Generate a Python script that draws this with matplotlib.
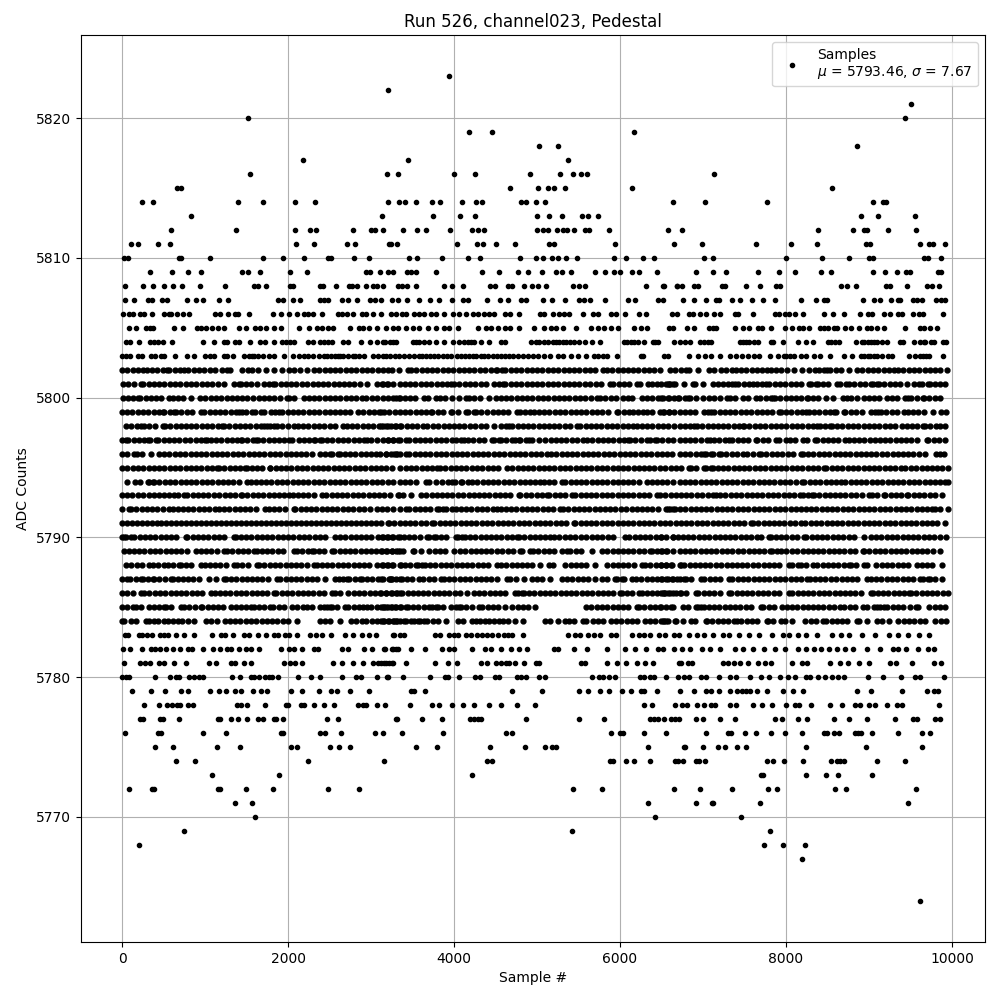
"""Pedestal samples for run 526, channel023: ADC counts vs sample number."""

import matplotlib
matplotlib.use("Agg")
import matplotlib.pyplot as plt

TITLE = "Run 526, channel023, Pedestal"
MU = 5793.46
SIGMA = 7.67

# sample numbers, one list per ADC count
s5823 = [3943]
s5822 = [3205]
s5821 = [9512]
s5820 = [1516, 9439]
s5819 = [4184, 4462, 6173]
s5818 = [5028, 5257, 8861]
s5817 = [2176, 3450, 5378]
s5816 = [1540, 3196, 3330, 4004, 4257, 4920, 5281, 5438, 5534, 5606, 7138]
s5815 = [664, 712, 4678, 5016, 5136, 5208, 5341, 6149, 8560]
s5814 = [244, 376, 1396, 1696, 2080, 2320, 3208, 3341, 3413, 3546, 3738, 3835, 4100, 4269, 4341, 4811, 4871, 4992,
         5100, 6644, 7029, 7776, 9054, 9174, 9206]
s5813 = [832, 3136, 3750, 4076, 4257, 5004, 5148, 5305, 5546, 5618, 5739, 8909, 9114, 9560]
s5812 = [592, 1372, 2080, 2260, 2332, 2788, 3004, 3052, 3148, 3389, 3558, 3666, 3956, 4220, 4293, 4365, 5004, 5076,
         5136, 5245, 5317, 5365, 5450, 5582, 5630, 5872, 6583, 6752, 8391, 8813, 8945, 8981, 9235, 9572]
s5811 = [112, 196, 436, 580, 2092, 2308, 2716, 2812, 3220, 3245, 3317, 4040, 4281, 4353, 4510, 4739, 5148, 5208, 5944,
         6656, 6993, 7644, 8066, 8379, 8970, 9018, 9620, 9729, 9777, 9922]
s5810 = [28, 76, 688, 712, 1060, 1696, 1936, 2188, 2476, 2512, 2800, 2980, 3461, 3558, 3859, 4172, 4317, 4799, 4992,
         5076, 5185, 5257, 5353, 5486, 5932, 6077, 6281, 6414, 7017, 7126, 8005, 8439, 8765, 9006, 9054, 9668, 9717,
         9873]
s5809 = [340, 604, 796, 952, 1444, 1516, 1660, 2020, 2224, 2944, 2992, 3112, 3208, 3269, 3437, 3486, 3546, 3787, 4341,
         4546, 4775, 4896, 5064, 5233, 5305, 5414, 5703, 5823, 5932, 6004, 6149, 6233, 6450, 6921, 7126, 7282, 7668,
         7921, 8114, 8427, 8548, 9054, 9198, 9343, 9452, 9500, 9837, 9873]
s5808 = [40, 256, 376, 508, 616, 724, 940, 1240, 1588, 1636, 1732, 2020, 2056, 2380, 2416, 2572, 2740, 2776, 2836,
         2944, 3028, 3076, 3148, 3330, 3377, 3437, 3546, 3883, 3980, 4112, 4438, 4498, 4654, 4703, 4847, 4944, 5016,
         5112, 5438, 5510, 5582, 6317, 6522, 6691, 6535, 6692, 6752, 6897, 6945, 7234, 7270, 7523, 7692, 7885, 7933,
         8668, 8740, 8849, 9210, 9259, 9464, 9705, 9765, 9849]
s5807 = [40, 148, 316, 364, 484, 544, 784, 892, 976, 1168, 1276, 1876, 1936, 2056, 2140, 2380, 2428, 2476, 2656, 2728,
         2836, 2992, 3052, 3120, 3257, 3329, 3437, 3582, 3715, 3823, 3980, 4112, 4172, 4401, 4558, 4654, 4811, 4871,
         5076, 5185, 5341, 5510, 5570, 5643, 5823, 6101, 6185, 6462, 6523, 6764, 6897, 7041, 7162, 7198, 7355, 7451,
         7596, 7728, 7873, 8186, 8367, 8463, 8499, 8933, 9066, 9138, 9271, 9355, 9379, 9536, 9584, 9644, 9813, 9873,
         9922]
s5806 = [16, 88, 136, 220, 268, 364, 508, 568, 592, 664, 736, 808, 1120, 1180, 1276, 1360, 1396, 1528, 1816, 1912,
         2008, 2104, 2188, 2236, 2296, 2404, 2596, 2656, 2716, 2788, 2896, 2944, 3028, 3124, 3240, 3301, 3369, 3421,
         3522, 3582, 3642, 3723, 3783, 3875, 3984, 4064, 4144, 4225, 4285, 4365, 4426, 4478, 4614, 4679, 4787, 5040,
         5088, 5189, 5269, 5329, 5390, 5550, 5671, 5731, 5892, 5952, 6060, 6233, 6314, 6623, 6692, 6836, 6885, 6969,
         7041, 7138, 7210, 7391, 7427, 7608, 7873, 7921, 7993, 8042, 8114, 8210, 8463, 8572, 8704, 8897, 8994, 9042,
         9186, 9259, 9355, 9403, 9536, 9608, 9656, 9897]
s5805 = [88, 172, 292, 340, 376, 628, 736, 904, 952, 1012, 1084, 1156, 1228, 1408, 1492, 1600, 1660, 1732, 1828, 1912,
         2128, 2248, 2344, 2404, 2476, 2536, 2752, 2860, 2908, 2980, 3076, 3184, 3261, 3321, 3421, 3502, 3582, 3682,
         3783, 3883, 3943, 4052, 4285, 4385, 4446, 4534, 4614, 4679, 4787, 4960, 5080, 5169, 5229, 5309, 5470, 5651,
         5731, 5803, 5892, 5972, 6173, 6253, 6326, 6595, 6644, 6812, 6897, 7077, 7126, 7162, 7391, 7487, 7559, 7668,
         7716, 7825, 7993, 8078, 8162, 8210, 8283, 8415, 8463, 8511, 8584, 8620, 8716, 8789, 8885, 8981, 9030, 9102,
         9186, 9439, 9620, 9668, 9741, 9825]
s5804 = [52, 100, 208, 340, 388, 436, 496, 604, 976, 1108, 1228, 1264, 1360, 1408, 1540, 1660, 1720, 1828, 1924, 1972,
         2020, 2068, 2236, 2296, 2380, 2428, 2476, 2524, 2668, 2728, 2884, 2992, 3076, 3148, 3232, 3301, 3502, 3582,
         3642, 3703, 3783, 3883, 3984, 4064, 4164, 4245, 4325, 4426, 4566, 4614, 4928, 5028, 5189, 5269, 5349, 5450,
         5582, 5659, 5763, 6052, 6133, 6213, 6293, 6394, 6454, 6656, 6728, 6788, 6848, 6969, 7017, 7102, 7451, 7487,
         7559, 7668, 7825, 7849, 7969, 8150, 8246, 8331, 8503, 8548, 8849, 8945, 9030, 9102, 9162, 9222, 9379, 9415,
         9548, 9620, 9681, 9789, 9897, 9934,
         3170, 3260, 3540, 4120, 4205, 4985, 5085, 5130, 5230, 5310, 5395, 5510, 6090, 6170, 6420, 7060, 7520, 7620,
         8590, 8640, 8910, 8990, 9060, 9660, 9750]
s5803 = [4, 52, 100, 196, 244, 352, 400, 472, 508, 640, 784, 868, 1000, 1060, 1108, 1228, 1264, 1336, 1468, 1528,
         1588, 1696, 1768, 1828, 1948, 2056, 2128, 2296, 2368, 2428, 2512, 2596, 2668, 2728, 2812, 2920, 3028, 3088,
         3148, 3228, 3288, 3341, 3461, 3582, 3662, 3763, 3863, 3963, 4084, 4185, 4265, 4365, 4466, 4566, 4667, 4767,
         4888, 5008, 5088, 5161, 5249, 5309, 5410, 5490, 5590, 5691, 5791, 5964, 6253, 6273, 6535, 6575, 6836, 6945,
         7029, 7102, 7210, 7331, 7403, 7475, 7547, 7620, 7680, 7813, 7909, 7981, 8102, 8186, 8246, 8343, 8415, 8536,
         8704, 8801, 8945, 9018, 9102, 9162, 9234, 9488, 9560, 9656, 9729, 9897,
         1560, 1640, 2190, 2240, 2470, 2560, 2630, 2780, 2860, 3180, 3400, 3520, 3615, 3710, 3810, 3915, 4030, 4135,
         4225, 4320, 4415, 4515, 4615, 4715, 4830, 4950, 5730, 5840, 8000, 8050, 8900, 8990, 9060, 9280, 9610, 9690]
s5802 = [0, 64, 128, 190, 256, 300, 360, 425, 490, 540, 570, 635, 700, 750, 800, 865, 930, 990, 1055, 1120, 1200,
         1260, 1300, 1450, 1520, 1570, 1635, 1730, 1830, 1930, 2010, 2075, 2140, 2230, 2310, 2375, 2440, 2500, 2565,
         2630, 2695, 2760, 2820, 2885, 2950, 3015, 3080, 3140, 3205, 3250, 3340, 3440, 3480, 3545, 3610, 3670, 3735,
         3800, 3865, 3930, 3990, 4055, 4120, 4180, 4245, 4310, 4375, 4440, 4500, 4520, 4580, 4620, 4685, 4750, 4810,
         4875, 4940, 5000, 5065, 5130, 5190, 5255, 5320, 5385, 5450, 5510, 5575, 5640, 5700, 5800, 5840, 5905, 5970,
         6030, 6095, 6160, 6220, 6285, 6350, 6415, 6480, 6600, 6665, 6730, 6790, 6835, 6935, 7075, 7135, 7215, 7280,
         7345, 7395, 7455, 7520, 7585, 7650, 7710, 7775, 7815, 7880, 7945, 8010, 8095, 8195, 8275, 8355, 8395, 8455,
         8495, 8535, 8600, 8665, 8755, 8855, 8920, 8985, 9045, 9110, 9175, 9240, 9300, 9355, 9415, 9480, 9545, 9605,
         9670, 9735, 9800, 9860, 9935]
s5801 = [8, 68, 148, 228, 256, 320, 385, 450, 510, 575, 640, 700, 765, 830, 895, 960, 1020, 1085, 1150, 1228, 1348,
         1408, 1428, 1490, 1555, 1620, 1708, 1768, 1820, 1848, 1910, 1975, 2040, 2100, 2165, 2230, 2295, 2360, 2420,
         2485, 2550, 2610, 2675, 2740, 2800, 2865, 2948, 3068, 3130, 3195, 3260, 3350, 3140, 3205, 3405, 3470, 3535,
         3600, 3660, 3725, 3790, 3850, 3915, 3960, 4000, 4065, 4130, 4195, 4255, 4320, 4385, 4480, 4540, 4592, 4620,
         4685, 4750, 4810, 4875, 4940, 5000, 5065, 5130, 5195, 5255, 5320, 5385, 5450, 5510, 5575, 5640, 5705, 5765,
         5880, 5920, 5985, 6050, 6110, 6200, 6240, 6340, 6380, 6445, 6560, 6590, 6640, 6495, 6575, 6607, 6663, 6776,
         6877, 6909, 6997, 7118, 7180, 7240, 7298, 7346, 7386, 7426, 7490, 7550, 7599, 7651, 7715, 7764, 7800, 7865,
         7930, 7990, 8055, 8120, 8185, 8280, 8300, 8360, 8380, 8445, 8510, 8620, 8650, 8720, 8760, 8825, 8890, 8955,
         9020, 9050, 9100, 9120, 9185, 9250, 9315, 9375, 9460, 9540, 9600, 9640, 9710, 9730, 9795, 9860, 9910]
s5800 = [8, 68, 128, 188, 220, 285, 350, 410, 475, 568, 608, 670, 735, 828, 940, 1005, 1070, 1130, 1195, 1260, 1320,
         1385, 1450, 1510, 1575, 1648, 1708, 1770, 1835, 1900, 1988, 2008, 2075, 2188, 2248, 2310, 2375, 2440, 2500,
         2565, 2630, 2695, 2755, 2820, 2885, 2945, 3010, 3075, 3140, 3200, 3265, 3350, 3300, 3340, 3405, 3470, 3530,
         3640, 3690, 3780, 3830, 3895, 3980, 4060, 4140, 4180, 4245, 4310, 4420, 4500, 4565, 4630, 4690, 4755, 4820,
         4880, 4945, 5010, 5075, 5135, 5200, 5265, 5325, 5390, 5455, 5520, 5580, 5645, 5720, 5760, 5825, 5890, 5950,
         6040, 6100, 6140, 6260, 6325, 6390, 6460, 6520, 6580, 6495, 6595, 6647, 6695, 6715, 6780, 6815, 6845, 6910,
         7000, 7070, 7135, 7200, 7290, 7320, 7380, 7480, 7545, 7640, 7690, 7755, 7820, 7840, 7870, 7930, 7995, 8060,
         8120, 8185, 8250, 8260, 8325, 8390, 8480, 8570, 8690, 8740, 8780, 8850, 8940, 9000, 9060, 9125, 9220, 9280,
         9340, 9440, 9470, 9510, 9575, 9650, 9660, 9725, 9790, 9850]
s5799 = [0, 65, 125, 190, 250, 315, 380, 440, 490, 510, 575, 630, 650, 715, 780, 840, 950, 990, 1055, 1120, 1180, 1245,
         1310, 1370, 1410, 1450, 1490, 1570, 1600, 1670, 1710, 1800, 1840, 1890, 1930, 1995, 2060, 2120, 2185, 2250,
         2310, 2375, 2440, 2500, 2565, 2630, 2690, 2750, 2840, 2905, 2970, 3030, 3095, 3160, 3220, 3285, 3350, 3120,
         3410, 3475, 3540, 3600, 3665, 3720, 3740, 3805, 3870, 3960, 3980, 4045, 4140, 4170, 4240, 4260, 4320, 4400,
         4465, 4530, 4590, 4655, 4760, 4790, 4855, 4920, 4960, 5025, 5090, 5150, 5215, 5280, 5340, 5405, 5470, 5530,
         5595, 5660, 5725, 5785, 5850, 5960, 5980, 6045, 6110, 6160, 6220, 6280, 6320, 6385, 6480, 6520, 6585, 6650,
         6720, 6527, 6590, 6780, 6845, 6905, 7017, 7057, 7097, 7137, 7200, 7265, 7330, 7390, 7455, 7520, 7580, 7645,
         7710, 7770, 7835, 7917, 7937, 8000, 8065, 8130, 8190, 8237, 8275, 8337, 8400, 8465, 8530, 8577, 8597, 8697,
         8717, 8780, 8845, 8910, 9027, 9067, 9107, 9147, 9210, 9275, 9340, 9427, 9467, 9530, 9595, 9660, 9767, 9867,
         9927]
s5798 = [48, 110, 175, 228, 268, 330, 395, 488, 516, 580, 645, 705, 770, 835, 895, 960, 1025, 1085, 1150, 1208, 1228,
         1290, 1355, 1420, 1480, 1545, 1610, 1668, 1708, 1748, 1788, 1836, 1868, 1930, 1995, 2068, 2116, 2180, 2245,
         2310, 2370, 2435, 2500, 2560, 2668, 2708, 2770, 2835, 2900, 2960, 3025, 3090, 3150, 3208, 3288, 3350, 3120,
         3180, 3240, 3300, 3365, 3430, 3490, 3555, 3620, 3680, 3745, 3810, 3875, 3935, 4000, 4065, 4125, 4190, 4255,
         4320, 4380, 4480, 4560, 4625, 4660, 4700, 4765, 4830, 4890, 4955, 5020, 5080, 5145, 5210, 5270, 5335, 5400,
         5480, 5520, 5585, 5650, 5710, 5775, 5840, 5900, 5965, 6030, 6095, 6160, 6200, 6265, 6325, 6390, 6455, 6520,
         6580, 6645, 6720, 6780, 6845, 6895, 6927, 6990, 7055, 7120, 7180, 7235, 7307, 7370, 7435, 7479, 7499, 7560,
         7625, 7690, 7750, 7815, 7880, 7945, 8005, 8070, 8135, 8195, 8260, 8325, 8375, 8415, 8475, 8535, 8555, 8620,
         8680, 8745, 8810, 8870, 8935, 9000, 9065, 9125, 9190, 9255, 9315, 9395, 9455, 9520, 9580, 9655, 9675, 9740,
         9805, 9860, 9915]
s5797 = [0, 48, 76, 140, 205, 265, 308, 340, 408, 436, 500, 565, 630, 690, 755, 820, 885, 948, 996, 1028, 1068, 1130,
         1195, 1260, 1320, 1385, 1428, 1448, 1510, 1575, 1608, 1636, 1700, 1765, 1825, 1890, 1955, 2008, 2048, 2128,
         2188, 2250, 2308, 2328, 2388, 2408, 2470, 2535, 2600, 2660, 2725, 2790, 2850, 2915, 2948, 2996, 3068, 3140,
         3205, 3270, 3350, 3200, 3260, 3325, 3420, 3460, 3525, 3590, 3650, 3715, 3780, 3845, 3905, 3980, 4020, 4085,
         4120, 4168, 4230, 4295, 4360, 4460, 4480, 4540, 4568, 4630, 4700, 4740, 4780, 4800, 4865, 4900, 4940, 5020,
         5100, 5165, 5230, 5290, 5355, 5420, 5480, 5560, 5600, 5665, 5730, 5790, 5855, 5920, 5985, 6045, 6100, 6120,
         6185, 6250, 6320, 6360, 6420, 6448, 6510, 6575, 6640, 6720, 6780, 6845, 6905, 6970, 7047, 7087, 7135, 7195,
         7260, 7315, 7355, 7420, 7485, 7545, 7635, 7655, 7720, 7785, 7875, 7915, 7995, 8047, 8110, 8207, 8255, 8355,
         8375, 8440, 8505, 8565, 8630, 8715, 8755, 8820, 8880, 8945, 9010, 9075, 9135, 9195, 9255, 9320, 9385, 9445,
         9510, 9575, 9695, 9715, 9780, 9845, 9915]
s5796 = [0, 60, 148, 180, 245, 348, 448, 510, 568, 636, 700, 760, 825, 890, 950, 1015, 1080, 1145, 1205, 1270, 1335,
         1395, 1460, 1525, 1585, 1650, 1715, 1780, 1840, 1905, 1970, 2030, 2095, 2160, 2220, 2285, 2388, 2448, 2508,
         2528, 2596, 2620, 2685, 2750, 2810, 2875, 2940, 3000, 3065, 3108, 3180, 3245, 3310, 3350, 3180, 3280, 3300,
         3420, 3460, 3525, 3590, 3655, 3715, 3780, 3845, 3905, 3970, 4035, 4095, 4160, 4225, 4290, 4350, 4415, 4480,
         4540, 4605, 4670, 4730, 4795, 4860, 4925, 4985, 5050, 5115, 5170, 5230, 5295, 5360, 5420, 5485, 5550, 5610,
         5675, 5740, 5805, 5865, 5930, 5995, 6055, 6120, 6185, 6250, 6310, 6375, 6440, 6500, 6565, 6630, 6720, 6780,
         6845, 6910, 6970, 7015, 7035, 7095, 7115, 7195, 7215, 7280, 7345, 7405, 7487, 7535, 7600, 7675, 7703, 7765,
         7830, 7895, 7955, 8020, 8085, 8175, 8203, 8265, 8330, 8395, 8455, 8520, 8585, 8645, 8710, 8775, 8840, 8900,
         8965, 9030, 9090, 9155, 9220, 9285, 9345, 9410, 9475, 9535, 9600, 9675, 9807, 9850, 9903]
s5795 = [0, 65, 130, 190, 255, 320, 380, 445, 510, 575, 635, 700, 765, 825, 890, 955, 1020, 1080, 1148, 1168, 1230,
         1295, 1360, 1420, 1476, 1500, 1565, 1630, 1690, 1780, 1788, 1850, 1915, 1980, 2040, 2105, 2170, 2230, 2295,
         2360, 2425, 2485, 2550, 2615, 2675, 2740, 2805, 2870, 2930, 2995, 3060, 3120, 3185, 3250, 3350, 3420, 3480,
         3545, 3610, 3670, 3735, 3800, 3832, 3895, 3960, 4020, 4085, 4150, 4215, 4275, 4340, 4405, 4465, 4530, 4640,
         4700, 4765, 4830, 4890, 4955, 5020, 5080, 5145, 5210, 5275, 5335, 5400, 5465, 5525, 5590, 5655, 5720, 5780,
         5845, 5910, 5970, 6035, 6100, 6165, 6225, 6290, 6355, 6415, 6480, 6545, 6610, 6670, 6735, 6835, 6855, 6920,
         7015, 7035, 7095, 7115, 7180, 7240, 7305, 7370, 7435, 7495, 7560, 7625, 7685, 7750, 7815, 7880, 7940, 8005,
         8070, 8130, 8195, 8260, 8325, 8385, 8455, 8487, 8550, 8615, 8680, 8745, 8805, 8870, 8935, 8995, 9060, 9125,
         9190, 9250, 9315, 9380, 9440, 9505, 9570, 9635, 9695, 9760, 9825, 9885, 9950]
s5794 = [60, 156, 220, 308, 328, 368, 388, 450, 515, 580, 640, 705, 770, 830, 895, 960, 1025, 1085, 1150, 1215, 1275,
         1340, 1405, 1508, 1548, 1610, 1675, 1740, 1800, 1865, 1930, 1990, 2055, 2120, 2185, 2245, 2310, 2375, 2435,
         2500, 2565, 2630, 2690, 2755, 2820, 2880, 2945, 3010, 3075, 3135, 3200, 3265, 3350, 3410, 3475, 3540, 3660,
         3700, 3780, 3860, 3925, 3980, 4008, 4080, 4100, 4165, 4220, 4280, 4345, 4410, 4470, 4535, 4600, 4660, 4725,
         4790, 4855, 4915, 4980, 5040, 5080, 5145, 5210, 5300, 5340, 5405, 5470, 5530, 5595, 5660, 5720, 5780, 5845,
         5910, 5970, 6035, 6100, 6160, 6225, 6320, 6380, 6445, 6510, 6570, 6635, 6720, 6780, 6845, 6905, 6970, 7035,
         7100, 7160, 7225, 7290, 7350, 7415, 7480, 7545, 7605, 7670, 7735, 7795, 7860, 7925, 7990, 8050, 8115, 8195,
         8223, 8285, 8350, 8415, 8480, 8540, 8605, 8663, 8715, 8780, 8840, 8905, 8970, 9035, 9095, 9160, 9225, 9285,
         9350, 9415, 9480, 9540, 9605, 9670, 9730, 9795, 9860, 9920, 9950]
s5793 = [0, 65, 125, 190, 255, 320, 380, 445, 510, 570, 620, 668, 748, 788, 850, 915, 980, 1040, 1105, 1170, 1235,
         1295, 1360, 1428, 1448, 1510, 1575, 1635, 1700, 1765, 1830, 1890, 1955, 2008, 2056, 2120, 2180, 2245, 2310,
         2408, 2460, 2525, 2590, 2650, 2715, 2780, 2840, 2905, 2970, 3035, 3095, 3160, 3225, 3328, 3340, 3380, 3480,
         3600, 3665, 3730, 3790, 3855, 3920, 3980, 4045, 4110, 4175, 4235, 4300, 4365, 4425, 4490, 4555, 4620, 4680,
         4780, 4800, 4865, 4930, 5000, 5060, 5120, 5150, 5215, 5280, 5340, 5420, 5460, 5525, 5585, 5650, 5715, 5780,
         5840, 5905, 5970, 6030, 6095, 6160, 6225, 6285, 6350, 6440, 6480, 6545, 6610, 6670, 6735, 6800, 6860, 6925,
         6990, 7055, 7115, 7155, 7207, 7270, 7335, 7395, 7460, 7525, 7590, 7650, 7715, 7780, 7840, 7905, 7970, 8035,
         8095, 8167, 8207, 8270, 8315, 8335, 8400, 8465, 8525, 8590, 8655, 8715, 8780, 8845, 8910, 9005, 9033, 9095,
         9175, 9195, 9260, 9325, 9385, 9455, 9475, 9540, 9600, 9665, 9730, 9790, 9875]
s5792 = [0, 88, 108, 170, 235, 300, 360, 425, 490, 568, 608, 670, 735, 800, 860, 925, 990, 1050, 1115, 1168, 1228,
         1290, 1355, 1420, 1480, 1545, 1610, 1728, 1768, 1830, 1895, 1960, 2068, 2088, 2150, 2215, 2280, 2340, 2405,
         2470, 2530, 2595, 2660, 2725, 2785, 2850, 2915, 2988, 3068, 3130, 3195, 3260, 3350, 3420, 3460, 3525, 3590,
         3650, 3715, 3800, 3820, 3870, 3900, 3980, 4020, 4085, 4145, 4210, 4275, 4335, 4400, 4465, 4520, 4560, 4625,
         4690, 4750, 4815, 4880, 4945, 5005, 5070, 5135, 5195, 5280, 5310, 5375, 5440, 5500, 5565, 5630, 5695, 5755,
         5820, 5885, 5945, 6010, 6075, 6140, 6200, 6265, 6330, 6390, 6455, 6560, 6600, 6665, 6583, 6635, 6720, 6785,
         6850, 6910, 6975, 7040, 7100, 7165, 7230, 7295, 7355, 7420, 7485, 7545, 7610, 7675, 7740, 7800, 7865, 7930,
         7990, 8055, 8115, 8175, 8240, 8305, 8365, 8430, 8495, 8555, 8620, 8685, 8750, 8810, 8875, 8940, 9000, 9065,
         9130, 9195, 9255, 9320, 9385, 9445, 9510, 9575, 9640, 9700, 9755, 9795, 9860, 9950]
s5791 = [0, 55, 115, 175, 235, 295, 355, 415, 475, 535, 595, 655, 715, 775, 835, 895, 955, 1015, 1075, 1135, 1195,
         1255, 1315, 1375, 1435, 1495, 1555, 1615, 1675, 1735, 1795, 1855, 1915, 1975, 2035, 2095, 2155, 2215, 2275,
         2335, 2395, 2455, 2515, 2575, 2635, 2695, 2755, 2815, 2875, 2935, 2995, 3055, 3120, 3200, 3220, 3280, 3345,
         3410, 3470, 3535, 3600, 3660, 3740, 3760, 3825, 3890, 3950, 4015, 4080, 4140, 4205, 4270, 4335, 4395, 4460,
         4525, 4585, 4650, 4715, 4780, 4840, 4905, 4970, 5030, 5095, 5160, 5225, 5285, 5350, 5440, 5460, 5525, 5590,
         5650, 5715, 5780, 5840, 5905, 5970, 6035, 6095, 6160, 6225, 6285, 6350, 6415, 6480, 6540, 6605, 6670, 6730,
         6795, 6860, 6925, 6985, 7050, 7115, 7175, 7240, 7305, 7370, 7430, 7495, 7580, 7600, 7665, 7730, 7790, 7855,
         7920, 7980, 8045, 8110, 8175, 8235, 8300, 8365, 8425, 8490, 8555, 8620, 8680, 8745, 8810, 8870, 8935, 9000,
         9065, 9125, 9190, 9255, 9315, 9380, 9445, 9510, 9570, 9635, 9700, 9760, 9825, 9910]
s5790 = [0, 28, 48, 108, 148, 210, 275, 340, 400, 465, 530, 590, 655, 768, 788, 850, 915, 975, 1040, 1105, 1165, 1230,
         1348, 1368, 1430, 1495, 1555, 1620, 1685, 1750, 1810, 1875, 1940, 2000, 2065, 2130, 2190, 2255, 2320, 2380,
         2445, 2568, 2628, 2690, 2755, 2815, 2880, 2945, 3005, 3088, 3128, 3190, 3255, 3350, 3140, 3205, 3270, 3330,
         3395, 3460, 3520, 3585, 3680, 3700, 3760, 3780, 3845, 3905, 4020, 4048, 4100, 4128, 4190, 4255, 4320, 4380,
         4445, 4510, 4570, 4635, 4700, 4760, 4780, 4845, 4910, 4970, 5035, 5100, 5160, 5208, 5270, 5335, 5400, 5460,
         5525, 5590, 5660, 5720, 5785, 5850, 5910, 6060, 6112, 6175, 6240, 6300, 6365, 6430, 6490, 6555, 6640, 6495,
         6635, 6695, 6760, 6820, 6885, 6950, 7010, 7075, 7140, 7200, 7265, 7330, 7390, 7455, 7520, 7580, 7655, 7695,
         7795, 7815, 7880, 7945, 8005, 8070, 8135, 8215, 8247, 8310, 8375, 8435, 8500, 8565, 8625, 8690, 8755, 8815,
         8945, 9025, 9090, 9150, 9215, 9280, 9340, 9405, 9470, 9530, 9595, 9660, 9720, 9785, 9850, 9930]
s5789 = [28, 88, 148, 208, 270, 335, 400, 460, 525, 590, 650, 715, 780, 888, 948, 1010, 1075, 1140, 1228, 1268, 1330,
         1395, 1460, 1520, 1588, 1620, 1685, 1750, 1810, 1875, 1940, 2068, 2108, 2170, 2235, 2288, 2308, 2370, 2435,
         2528, 2556, 2620, 2685, 2745, 2810, 2875, 2935, 3000, 3065, 3128, 3188, 3250, 3350, 3120, 3185, 3250, 3300,
         3320, 3385, 3500, 3520, 3600, 3700, 3765, 3830, 3890, 4000, 4072, 4135, 4200, 4260, 4325, 4390, 4450, 4515,
         4580, 4645, 4705, 4800, 4820, 4920, 4952, 5015, 5080, 5140, 5200, 5300, 5360, 5400, 5465, 5530, 5660, 5780,
         5845, 5910, 5970, 6035, 6100, 6160, 6225, 6290, 6360, 6380, 6445, 6505, 6570, 6635, 6720, 6495, 6560, 6780,
         6845, 6905, 6970, 7035, 7095, 7160, 7225, 7290, 7350, 7423, 7487, 7550, 7615, 7675, 7740, 7807, 7835, 7887,
         7943, 8005, 8070, 8135, 8200, 8260, 8325, 8390, 8450, 8515, 8580, 8640, 8705, 8770, 8835, 8927, 8943, 9005,
         9070, 9135, 9195, 9260, 9325, 9385, 9450, 9515, 9580, 9640, 9705, 9770, 9855]
s5788 = [48, 110, 175, 240, 328, 368, 430, 508, 548, 610, 688, 708, 770, 835, 948, 996, 1060, 1120, 1185, 1250, 1348,
         1388, 1450, 1515, 1628, 1652, 1715, 1780, 1840, 1905, 1970, 2030, 2095, 2160, 2225, 2308, 2348, 2410, 2475,
         2535, 2600, 2665, 2725, 2790, 2855, 2920, 2980, 3068, 3128, 3190, 3255, 3350, 3140, 3205, 3270, 3360, 3408,
         3470, 3540, 3560, 3608, 3648, 3710, 3775, 3840, 3900, 3965, 4030, 4090, 4155, 4220, 4285, 4345, 4410, 4520,
         4568, 4630, 4695, 4755, 4820, 4885, 4945, 5040, 5140, 5192, 5340, 5405, 5470, 5530, 5595, 5700, 5848, 5910,
         5975, 6040, 6100, 6165, 6260, 6300, 6365, 6430, 6490, 6555, 6620, 6720, 6495, 6560, 6625, 6735, 6775, 6840,
         6900, 6965, 7030, 7090, 7155, 7220, 7285, 7345, 7410, 7475, 7535, 7600, 7665, 7730, 7790, 7855, 7920, 8035,
         8075, 8143, 8183, 8245, 8327, 8375, 8440, 8505, 8565, 8630, 8695, 8755, 8783, 8845, 8935, 8975, 9087, 9155,
         9215, 9280, 9345, 9405, 9470, 9575, 9635, 9700, 9760, 9875]
s5787 = [0, 60, 100, 165, 228, 248, 310, 368, 388, 450, 515, 588, 608, 670, 735, 800, 860, 925, 1048, 1128, 1228, 1248,
         1310, 1375, 1440, 1500, 1565, 1630, 1690, 1755, 1868, 1908, 1970, 2035, 2100, 2160, 2225, 2290, 2350, 2448,
         2560, 2608, 2660, 2708, 2740, 2805, 2868, 2888, 2950, 3015, 3080, 3140, 3228, 3248, 3350, 3120, 3220, 3240,
         3305, 3370, 3430, 3495, 3580, 3632, 3695, 3760, 3840, 3880, 3945, 4005, 4070, 4135, 4195, 4260, 4325, 4390,
         4450, 4515, 4640, 4680, 4745, 4840, 4940, 5005, 5065, 5160, 5300, 5365, 5425, 5490, 5555, 5620, 5700, 5780,
         5845, 5940, 5968, 6020, 6048, 6140, 6192, 6255, 6320, 6380, 6445, 6510, 6575, 6635, 6720, 6495, 6560, 6625,
         6690, 6775, 6795, 6860, 6975, 7015, 7080, 7140, 7205, 7315, 7355, 7420, 7480, 7545, 7610, 7670, 7735, 7800,
         7865, 7925, 7990, 8055, 8115, 8180, 8255, 8287, 8350, 8415, 8475, 8540, 8605, 8670, 8730, 8795, 8860, 8975,
         9023, 9085, 9150, 9215, 9275, 9340, 9405, 9465, 9530, 9615, 9647, 9707, 9735, 9795, 9875]
s5786 = [0, 65, 130, 228, 268, 330, 395, 455, 520, 585, 650, 710, 775, 840, 900, 965, 1068, 1116, 1180, 1240, 1305,
         1370, 1430, 1495, 1560, 1625, 1685, 1750, 1828, 1860, 1925, 1990, 2050, 2115, 2180, 2240, 2305, 2370, 2435,
         2528, 2568, 2630, 2728, 2796, 2860, 2920, 2985, 3050, 3110, 3175, 3240, 3305, 3350, 3120, 3185, 3250, 3310,
         3375, 3440, 3500, 3565, 3630, 3690, 3755, 3820, 3885, 3945, 4010, 4075, 4160, 4240, 4305, 4365, 4430, 4495,
         4555, 4620, 4740, 4768, 4820, 4840, 4905, 4965, 5030, 5095, 5155, 5220, 5285, 5350, 5410, 5475, 5540, 5600,
         5665, 5730, 5795, 5855, 5920, 6000, 6020, 6085, 6150, 6230, 6260, 6325, 6390, 6450, 6515, 6580, 6640, 6720,
         6495, 6527, 6543, 6605, 6670, 6735, 6795, 6915, 6945, 7010, 7075, 7135, 7200, 7315, 7343, 7405, 7470, 7530,
         7595, 7660, 7725, 7785, 7850, 7915, 8035, 8075, 8140, 8200, 8265, 8330, 8395, 8455, 8520, 8585, 8645, 8710,
         8775, 8835, 8900, 9025, 9045, 9110, 9170, 9235, 9300, 9360, 9425, 9487, 9507, 9570, 9635, 9695, 9760, 9825,
         9890, 9950]
s5785 = [0, 60, 128, 168, 230, 328, 388, 450, 508, 528, 590, 708, 748, 810, 875, 948, 968, 1030, 1095, 1160, 1220, 1316,
         1368, 1430, 1495, 1548, 1588, 1650, 1715, 1788, 1820, 1885, 1948, 2048, 2110, 2180, 2228, 2288, 2380, 2428,
         2468, 2508, 2528, 2590, 2688, 2728, 2790, 2855, 2908, 2948, 2996, 3068, 3148, 3180, 3236, 3288, 3350, 3120,
         3160, 3200, 3248, 3300, 3365, 3420, 3440, 3505, 3570, 3635, 3700, 3740, 3780, 3808, 3870, 3968, 4020, 4060,
         4088, 4150, 4215, 4300, 4340, 4405, 4470, 4535, 4620, 4700, 4765, 4830, 4890, 4980, 5592, 5655, 5720, 5780,
         5845, 5910, 5970, 6035, 6100, 6200, 6232, 6295, 6360, 6420, 6485, 6550, 6620, 6495, 6635, 6755, 6820, 6915,
         6943, 6975, 7007, 7070, 7135, 7195, 7260, 7325, 7385, 7450, 7515, 7580, 7695, 7727, 7790, 7855, 7955, 8007,
         8075, 8135, 8200, 8260, 8325, 8390, 8450, 8515, 8580, 8645, 8705, 8770, 8835, 8927, 8975, 9055, 9095, 9135,
         9175, 9215, 9287, 9350, 9415, 9495, 9567, 9595, 9727, 9790, 9855, 9915]
s5784 = [0, 28, 108, 170, 288, 328, 380, 428, 508, 548, 608, 668, 728, 796, 868, 1008, 1075, 1148, 1236, 1300, 1365,
         1425, 1490, 1555, 1615, 1680, 1745, 1810, 1870, 1935, 2000, 2108, 2380, 2445, 2510, 2620, 2756, 2820, 2885,
         2945, 3010, 3075, 3148, 3208, 3260, 3300, 3350, 3120, 3160, 3220, 3272, 3312, 3392, 3420, 3480, 3512, 3560,
         3592, 3640, 3680, 3752, 3808, 3900, 4048, 4110, 4220, 4260, 4312, 4368, 4420, 4480, 4540, 4592, 4648, 4740,
         4832, 5100, 5152, 5248, 5340, 5380, 5445, 5560, 5592, 5680, 5740, 5792, 5888, 5950, 6015, 6080, 6140, 6205,
         6300, 6360, 6425, 6512, 6560, 6660, 6495, 6527, 6583, 6675, 6755, 6855, 6903, 7035, 7047, 7110, 7175, 7235,
         7300, 7375, 7407, 7463, 7527, 7590, 7655, 7767, 7783, 7845, 7943, 7983, 8075, 8235, 8300, 8365, 8447, 8487,
         8550, 8615, 8675, 8740, 8855, 8875, 8975, 9095, 9160, 9247, 9355, 9420, 9480, 9545, 9610, 9670, 9795, 9867,
         9927]
s5783 = [40, 76, 208, 244, 304, 364, 460, 508, 556, 652, 748, 868, 1084, 1192, 1240, 1336, 1468, 1528, 1636, 1732,
         1828, 1876, 1960, 2008, 2104, 2260, 2332, 2404, 2512, 2692, 2788, 2896, 2980, 3064, 3268, 3281, 3353, 3401,
         3775, 3835, 3943, 4004, 4052, 4148, 4209, 4281, 4341, 4401, 4462, 4534, 4606, 4654, 4703, 4835, 5378, 5462,
         5522, 5618, 5691, 5763, 5896, 5956, 6149, 6233, 6293, 6366, 6474, 6547, 6656, 6715, 6836, 6933, 7017, 7126,
         7246, 7319, 7439, 7559, 7680, 7837, 7969, 8042, 8150, 8246, 8379, 8560, 8668, 8765, 8921, 9078, 9247, 9355,
         9476, 9608, 9729]
s5782 = [16, 100, 244, 352, 400, 460, 532, 616, 700, 796, 844, 976, 1096, 1180, 1264, 1312, 1408, 1492, 1552, 1648,
         1912, 2008, 2068, 2164, 2308, 2356, 2656, 2728, 2920, 3016, 3160, 3256, 3328, 3172, 3269, 3305, 3486, 3654,
         3859, 3943, 4004, 4221, 4377, 4450, 4570, 4691, 4787, 4884, 5209, 5257, 5450, 5607, 5848, 6064, 6185, 6318,
         6462, 6523, 6655, 6752, 6848, 6993, 7090, 7210, 7391, 7487, 7608, 7740, 7873, 7993, 8150, 8246, 8343, 8427,
         8524, 8620, 8717, 8813, 8981, 9138, 9295, 9355, 9452, 9596, 9717, 9789]
s5781 = [28, 220, 280, 340, 448, 508, 628, 772, 1048, 1132, 1312, 1360, 1468, 1552, 1948, 2020, 2080, 2164, 2536, 2656,
         2788, 2908, 3028, 3088, 3160, 3220, 3268, 3120, 3184, 3257, 3425, 3775, 3931, 4040, 4329, 4401, 4510, 4570,
         4630, 4667, 4739, 4847, 4992, 5028, 5534, 5582, 5848, 5968, 6072, 6209, 6306, 6402, 6715, 6740, 6824, 6873,
         7246, 7306, 7379, 7451, 7547, 7668, 7752, 7825, 8078, 8198, 8258, 8536, 8656, 8752, 8885, 9006, 9259, 9331,
         9524, 9789, 9873]
s5780 = [4, 52, 88, 400, 580, 652, 688, 808, 868, 928, 976, 1324, 1420, 1552, 1588, 1648, 1720, 1768, 1804, 1876, 2116,
         2272, 2380, 2656, 2824, 2884, 3076, 3196, 3208, 3389, 3715, 3895, 3931, 4064, 4257, 4317, 4498, 4546, 4763,
         4811, 4871, 5028, 5100, 5667, 5751, 5799, 5872, 5944, 6245, 6293, 6366, 6414, 6559, 6703, 6776, 6836, 6981,
         7041, 7198, 7331, 7403, 7572, 7704, 7800, 7933, 8029, 8114, 8246, 8295, 8391, 8475, 8560, 8632, 8704, 8986,
         9174, 9391, 9560, 9620, 9909]
s5779 = [124, 352, 520, 712, 796, 1060, 1168, 1252, 1360, 1432, 1576, 1672, 1744, 2032, 2164, 2368, 2512, 2584, 2752,
         2980, 3486, 3522, 3654, 4703, 5064, 5510, 5618, 5763, 5872, 6028, 6137, 6257, 6293, 6450, 6728, 6897, 7041,
         7102, 7198, 7331, 7415, 7475, 7523, 7572, 7656, 7776, 7969, 8090, 8210, 8861, 9030, 9403, 9705, 9789, 9837]
s5778 = [268, 448, 544, 604, 664, 700, 796, 856, 1384, 1432, 1504, 1720, 1972, 1996, 2152, 2188, 2308, 2428, 2548,
         2848, 2908, 2944, 3076, 3172, 3473, 3739, 3823, 3980, 4112, 4245, 4426, 4570, 4763, 4980, 6293, 6390, 6668,
         6752, 6812, 6933, 7017, 7102, 7150, 7331, 7403, 7608, 7716, 7837, 8005, 8114, 8162, 8307, 8536, 8680, 8837,
         8897, 9006, 9078, 9222, 9343, 9403, 9849]
s5777 = [220, 256, 460, 496, 688, 1156, 1180, 1312, 1396, 1504, 1636, 1696, 1828, 1852, 1936, 2464, 2596, 3304, 3317,
         3618, 3859, 4197, 4245, 4293, 4329, 4871, 5510, 5811, 6366, 6414, 6462, 6534, 6619, 6667, 6716, 6921, 7005,
         7210, 7391, 7873, 7957, 8150, 8259, 8584, 8765, 8981, 9319, 9536, 9584, 9801, 9861]
s5776 = [40, 436, 472, 976, 1252, 1912, 1936, 2380, 2440, 2632, 3052, 3148, 3377, 3871, 4630, 4703, 5896, 6004, 6040,
         6293, 6559, 7041, 7306, 7343, 7511, 7644, 7825, 7993, 8198, 8463, 8499, 8584, 8644, 8837, 8873, 8909, 9042,
         9355, 9644, 9741]
s5775 = [400, 616, 1144, 1420, 2032, 2104, 2500, 2608, 2752, 3546, 3799, 4438, 4859, 5100, 5185, 5233, 6342, 6776,
         6788, 7005, 7186, 7270, 7415, 7523, 8246, 8970, 9644]
s5774 = [652, 880, 2236, 3160, 4401, 4462, 5884, 5920, 6077, 6173, 6366, 6667, 6703, 6764, 6921, 6957, 7029, 7776,
         7849, 7981, 8210, 8548, 8620, 8656, 8704, 9102, 9439]
s5773 = [1084, 1888, 4221, 7704, 7728, 8246, 8487, 8632, 9042]
s5772 = [88, 364, 388, 1156, 1180, 1492, 1816, 2476, 2860, 5438, 5787, 6656, 6969, 7355, 7788, 7897, 8596, 8729, 9572]
s5771 = [1360, 1564, 6342, 6921, 7114, 7126, 7692, 9476]
s5770 = [1600, 6426, 7463]
s5769 = [748, 5426, 7813]
s5768 = [208, 7740, 7969, 8234]
s5767 = [8198]
s5764 = [9620]

SPARSE_LEVELS = [
    (5823, s5823), (5822, s5822), (5821, s5821), (5820, s5820), (5819, s5819), (5818, s5818), (5817, s5817),
    (5816, s5816), (5815, s5815), (5814, s5814), (5813, s5813), (5812, s5812), (5811, s5811), (5810, s5810),
    (5809, s5809), (5808, s5808), (5807, s5807), (5806, s5806), (5805, s5805), (5804, s5804), (5803, s5803),
    (5783, s5783), (5782, s5782), (5781, s5781), (5780, s5780), (5779, s5779), (5778, s5778), (5777, s5777),
    (5776, s5776), (5775, s5775), (5774, s5774), (5773, s5773), (5772, s5772), (5771, s5771), (5770, s5770),
    (5769, s5769), (5768, s5768), (5767, s5767), (5764, s5764),
]
# the middle rows merge into solid bars, slightly bigger dots close the gaps
DENSE_LEVELS = [
    (5802, s5802), (5801, s5801), (5800, s5800), (5799, s5799), (5798, s5798), (5797, s5797), (5796, s5796),
    (5795, s5795), (5794, s5794), (5793, s5793), (5792, s5792), (5791, s5791), (5790, s5790), (5789, s5789),
    (5788, s5788), (5787, s5787), (5786, s5786), (5785, s5785), (5784, s5784),
]


def flatten(levels):
    xs, ys = [], []
    for level, row in levels:
        xs.extend(row)
        ys.extend([level] * len(row))
    return xs, ys


fig, ax = plt.subplots(figsize=(10, 10))
x_sparse, y_sparse = flatten(SPARSE_LEVELS)
x_dense, y_dense = flatten(DENSE_LEVELS)
ax.plot(x_dense, y_dense, "k.", markersize=7)
ax.plot(x_sparse, y_sparse, "k.", label=f"Samples\n$\\mu$ = {MU:.2f}, $\\sigma$ = {SIGMA:.2f}")
ax.set_xlim(-495, 10398)
ax.set_ylim(5761.05, 5825.95)
ax.set_xlabel("Sample #")
ax.set_ylabel("ADC Counts")
ax.set_title(TITLE)
ax.legend(loc="upper right")
ax.grid(True)
fig.subplots_adjust(left=0.081, right=0.985, top=0.965, bottom=0.058)
fig.savefig("out.png", dpi=100)
